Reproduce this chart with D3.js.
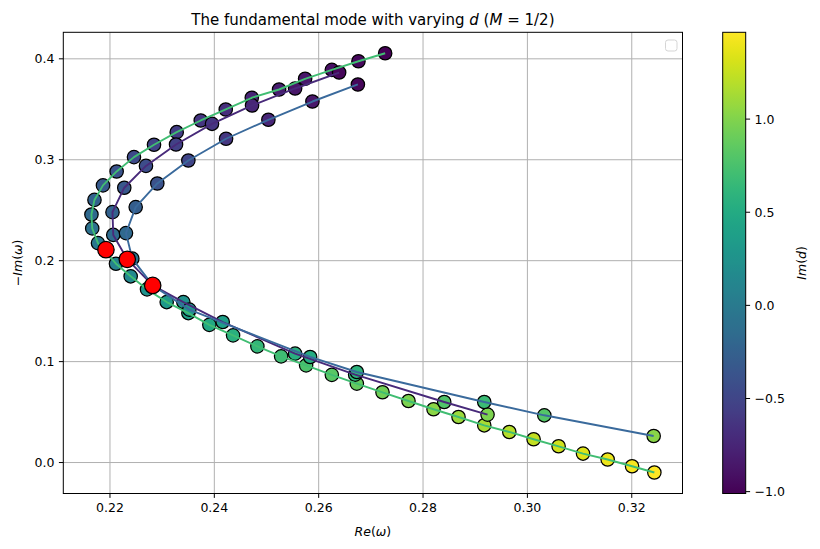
<!DOCTYPE html>
<html>
<head>
<meta charset="utf-8">
<script src="https://cdn.jsdelivr.net/npm/d3@7"></script>
<style>
  html, body { margin: 0; padding: 0; background: #fff; }
  svg { display: block; font-family: "DejaVu Sans", sans-serif; }
</style>
</head>
<body>
<svg id="chart" width="820" height="549"></svg>
<script>
// ---------------- data ----------------
const greenRe = [0.27274,0.26762,0.26252,0.25740,0.25241,0.24718,0.24219,0.23740,0.23279,0.22844,0.22460,0.22128,0.21866,0.21703,0.21645,0.21660,0.21770,0.22115,0.22397,0.22710,0.23087,0.23502,0.23904,0.24359,0.24825,0.25280,0.25759,0.26252,0.26731,0.27223,0.27721,0.28201,0.28680,0.29173,0.29653,0.30119,0.30598,0.31066,0.31538,0.32006,0.32433];
const greenIm = [0.4055,0.3976,0.3891,0.3802,0.3696,0.3614,0.3498,0.3389,0.3273,0.3149,0.3026,0.2884,0.2746,0.2602,0.2458,0.2320,0.2174,0.1970,0.1845,0.1716,0.1590,0.1481,0.1364,0.1260,0.1151,0.1052,0.0963,0.0869,0.0782,0.0696,0.0610,0.0528,0.0451,0.0369,0.0303,0.0231,0.0161,0.0089,0.0030,-0.0037,-0.0099];
const greenD  = [-1.01,-0.96,-0.91,-0.86,-0.81,-0.75,-0.69,-0.63,-0.57,-0.51,-0.45,-0.38,-0.31,-0.24,-0.17,-0.10,-0.03,0.08,0.16,0.24,0.32,0.40,0.48,0.56,0.63,0.70,0.76,0.82,0.88,0.93,0.98,1.04,1.09,1.14,1.19,1.24,1.29,1.34,1.39,1.43,1.466];

const purpleRe = [0.26392,0.25548,0.24723,0.23956,0.23266,0.22690,0.22274,0.22048,0.22063,0.22332,0.22819,0.23406,0.24161,0.25548,0.26699,0.28406,0.29236];
const purpleIm = [0.3864,0.3706,0.3538,0.3356,0.3151,0.2939,0.2723,0.2481,0.2255,0.2013,0.1755,0.1590,0.1392,0.1079,0.0871,0.0600,0.0475];
const purpleD  = [-0.97,-0.86,-0.74,-0.63,-0.53,-0.43,-0.34,-0.24,-0.14,-0.02,0.10,0.25,0.38,0.55,0.62,0.78,0.98];

const blueRe = [0.26751,0.25880,0.25036,0.24225,0.23502,0.22907,0.22493,0.22307,0.22428,0.22819,0.23521,0.25836,0.26731,0.29173,0.30324,0.32420];
const blueIm = [0.3746,0.3577,0.3396,0.3208,0.2993,0.2765,0.2531,0.2273,0.2020,0.1755,0.1515,0.1046,0.0897,0.0600,0.0468,0.0263];
const blueD  = [-0.97,-0.86,-0.74,-0.62,-0.50,-0.39,-0.28,-0.17,-0.05,0.08,0.30,0.50,0.58,0.68,0.80,1.03];

const redRe = [0.21923,0.22332,0.22819];
const redIm = [0.2109,0.2013,0.1755];

const xTicks = [0.22,0.24,0.26,0.28,0.30,0.32];
const yTicks = [0.0,0.1,0.2,0.3,0.4];
const cTicks = [-1.0,-0.5,0.0,0.5,1.0];

const seriesNames = ["purple","blue","green"];
const lineColors = {purple:"#482a7a", blue:"#3a6a9c", green:"#40bd72"};

// ---------------- layout ----------------
const svg = d3.select("#chart");
const L = 63.3, R = 682.5, T = 32.3, B = 493.5;
const cbL = 722.7, cbR = 745.7;

function zipS(re, im, d){ return re.map((v,i)=>({re:v, im:im[i], d:d[i]})); }
const series = {
  green: zipS(greenRe, greenIm, greenD),
  purple: zipS(purpleRe, purpleIm, purpleD),
  blue: zipS(blueRe, blueIm, blueD)
};
const allRe = greenRe.concat(purpleRe, blueRe, redRe);
const allIm = greenIm.concat(purpleIm, blueIm, redIm);
const allD = greenD.concat(purpleD, blueD);

const [x0,x1] = d3.extent(allRe), [y0,y1] = d3.extent(allIm);
const px = (x1-x0)*0.05, py = (y1-y0)*0.05;
const x = d3.scaleLinear().domain([x0-px, x1+px]).range([L, R]);
const y = d3.scaleLinear().domain([y0-py, y1+py]).range([B, T]);
const dExt = d3.extent(allD);
const color = d3.scaleSequential(d3.interpolateViridis).domain(dExt);
const cy = d3.scaleLinear().domain(dExt).range([B, T]);

const FS = 12.5;

// grid
const g = svg.append("g");
g.selectAll(".gx").data(xTicks).enter().append("line")
  .attr("x1", d=>x(d)).attr("x2", d=>x(d)).attr("y1", T).attr("y2", B)
  .attr("stroke", "#b0b0b0").attr("stroke-width", 1);
g.selectAll(".gy").data(yTicks).enter().append("line")
  .attr("y1", d=>y(d)).attr("y2", d=>y(d)).attr("x1", L).attr("x2", R)
  .attr("stroke", "#b0b0b0").attr("stroke-width", 1);

// clip
svg.append("clipPath").attr("id","clip").append("rect")
  .attr("x", L).attr("y", T).attr("width", R-L).attr("height", B-T);
const plot = svg.append("g").attr("clip-path","url(#clip)");

// markers
["green","purple","blue"].forEach(name=>{
  plot.append("g").selectAll("circle").data(series[name]).enter().append("circle")
    .attr("cx", d=>x(d.re)).attr("cy", d=>y(d.im)).attr("r", 6.7)
    .attr("fill", d=>color(d.d)).attr("stroke", "#000").attr("stroke-width", 1.25);
});

// lines
const line = d3.line().x(d=>x(d.re)).y(d=>y(d.im));
seriesNames.forEach(name=>{
  plot.append("path").datum(series[name]).attr("d", line)
    .attr("fill","none").attr("stroke", lineColors[name]).attr("stroke-width", 1.9)
    .attr("stroke-linejoin","round").attr("stroke-linecap","butt");
});

// red points
plot.append("g").selectAll("circle").data(redRe.map((v,i)=>({re:v, im:redIm[i]}))).enter().append("circle")
  .attr("cx", d=>x(d.re)).attr("cy", d=>y(d.im)).attr("r", 8.2)
  .attr("fill", "#ff0000").attr("stroke", "#000").attr("stroke-width", 1.25);

// axes frame
svg.append("rect").attr("x", L).attr("y", T).attr("width", R-L).attr("height", B-T)
  .attr("fill","none").attr("stroke","#000").attr("stroke-width",1);

// x ticks
const xa = svg.append("g");
xa.selectAll("line").data(xTicks).enter().append("line")
  .attr("x1", d=>x(d)).attr("x2", d=>x(d)).attr("y1", B).attr("y2", B+4.4)
  .attr("stroke","#000").attr("stroke-width",1);
xa.selectAll("text").data(xTicks).enter().append("text")
  .attr("x", d=>x(d)).attr("y", B+8.8+FS*0.76).attr("text-anchor","middle")
  .attr("font-size", FS).text(d=>d3.format(".2f")(d));

// y ticks
const ya = svg.append("g");
ya.selectAll("line").data(yTicks).enter().append("line")
  .attr("y1", d=>y(d)).attr("y2", d=>y(d)).attr("x1", L-4.4).attr("x2", L)
  .attr("stroke","#000").attr("stroke-width",1);
ya.selectAll("text").data(yTicks).enter().append("text")
  .attr("x", L-8.8).attr("y", d=>y(d)).attr("dy","0.36em").attr("text-anchor","end")
  .attr("font-size", FS).text(d=>d3.format(".1f")(d));

// axis labels
const xl = svg.append("text").attr("x",(L+R)/2).attr("y", 536).attr("text-anchor","middle").attr("font-size", FS);
xl.append("tspan").attr("font-style","italic").text("Re");
xl.append("tspan").text("(");
xl.append("tspan").attr("font-style","italic").text("ω");
xl.append("tspan").text(")");

const yl = svg.append("text").attr("transform",`translate(22,${(T+B)/2}) rotate(-90)`)
  .attr("text-anchor","middle").attr("font-size", FS);
yl.append("tspan").text("−");
yl.append("tspan").attr("font-style","italic").text("Im");
yl.append("tspan").text("(");
yl.append("tspan").attr("font-style","italic").text("ω");
yl.append("tspan").text(")");

// title
const tt = svg.append("text").attr("x",(L+R)/2).attr("y", 24.5).attr("text-anchor","middle").attr("font-size", 15);
tt.append("tspan").text("The fundamental mode with varying ");
tt.append("tspan").attr("font-style","italic").text("d");
tt.append("tspan").text(" (");
tt.append("tspan").attr("font-style","italic").text("M");
tt.append("tspan").text(" = 1/2)");

// empty legend box
svg.append("rect").attr("x", 665.5).attr("y", 40).attr("width", 11.5).attr("height", 11)
  .attr("rx", 2.5).attr("fill","#fff").attr("stroke","#d5d5d5").attr("stroke-width",1);

// colorbar
const defs = svg.append("defs");
const grad = defs.append("linearGradient").attr("id","vir").attr("x1","0").attr("y1","1").attr("x2","0").attr("y2","0");
d3.range(0, 1.0001, 0.02).forEach(t=>{
  grad.append("stop").attr("offset", t).attr("stop-color", d3.interpolateViridis(t));
});
svg.append("rect").attr("x", cbL).attr("y", T).attr("width", cbR-cbL).attr("height", B-T)
  .attr("fill","url(#vir)").attr("stroke","#000").attr("stroke-width",1);
const ca = svg.append("g");
ca.selectAll("line").data(cTicks).enter().append("line")
  .attr("x1", cbR).attr("x2", cbR+4.4).attr("y1", d=>cy(d)).attr("y2", d=>cy(d))
  .attr("stroke","#000").attr("stroke-width",1);
ca.selectAll("text").data(cTicks).enter().append("text")
  .attr("x", cbR+8.8).attr("y", d=>cy(d)).attr("dy","0.36em").attr("text-anchor","start")
  .attr("font-size", FS).text(d=>d3.format(".1f")(d));
const cl = svg.append("text").attr("transform",`translate(806,${(T+B)/2}) rotate(-90)`)
  .attr("text-anchor","middle").attr("font-size", FS);
cl.append("tspan").attr("font-style","italic").text("Im");
cl.append("tspan").text("(");
cl.append("tspan").attr("font-style","italic").text("d");
cl.append("tspan").text(")");
</script>
</body>
</html>
